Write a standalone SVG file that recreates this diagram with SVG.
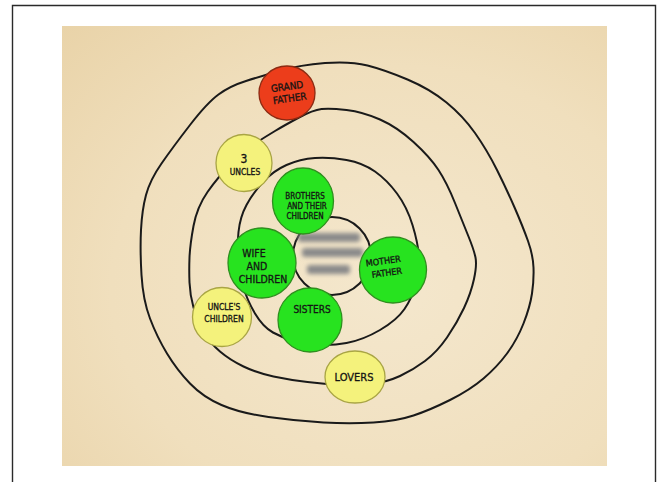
<svg xmlns="http://www.w3.org/2000/svg" width="657" height="482" viewBox="0 0 657 482">
<defs>
<radialGradient id="paper" cx="0.6" cy="0.6" r="0.85">
<stop offset="0" stop-color="#f4e7cd"/>
<stop offset="0.6" stop-color="#f0dfbd"/>
<stop offset="1" stop-color="#e9d3a8"/>
</radialGradient>
<filter id="blur" x="-20%" y="-50%" width="140%" height="200%"><feGaussianBlur stdDeviation="2.2"/></filter>
<style>
.ring{fill:none;stroke:#1a1a1a;stroke-width:2;stroke-linejoin:round}
.green{fill:#27e31f;stroke:#2f8f1f;stroke-width:1.3}
.yellow{fill:#f4f27c;stroke:#a9a544;stroke-width:1.3}
.red{fill:#ec3d1b;stroke:#8c2a12;stroke-width:1.3}
.t{font-family:"Liberation Sans Narrow","DejaVu Sans Condensed","Liberation Sans",sans-serif;fill:#141414;stroke:#141414;stroke-width:0.3;text-anchor:middle}
</style>
</defs>
<rect x="0" y="0" width="657" height="482" fill="#ffffff"/>
<path d="M12.5,482 V5.5 H655.5 V482" fill="none" stroke="#2a2a2a" stroke-width="1.4"/>
<rect x="62" y="26" width="545" height="440" fill="url(#paper)"/>

<g id="connectors">
<path class="ring" d="M325,63 Q350,61 367.5,65.5 Q385,70 407.5,79.5 Q430,89 446.5,102.5 Q463,116 475,133 Q487,150 497,170 Q507,190 515,208.5 Q523,227 528,241 Q533,255 533.5,267.5 Q534,280 532,293.5 Q530,307 523.5,323.5 Q517,340 507,353.5 Q497,367 483.5,378.5 Q470,390 450,400 Q430,410 413.5,415.5 Q397,421 373.5,422.5 Q350,424 323.5,422.5 Q297,421 268.5,417 Q240,413 221.5,405 Q203,397 190,383.5 Q177,370 167,353.5 Q157,337 150,318.5 Q143,300 141.5,275 Q140,250 141,230 Q142,210 146,195 Q150,180 161.5,163.5 Q173,147 190,125 Q207,103 218.5,94.5 Q230,86 246,81 Q262,76 281,70.5 Q300,65 325,63 Z"/>
<path class="ring" d="M321.5,109 Q330,108 346.5,110 Q363,112 380,119.5 Q397,127 413.5,142 Q430,157 438.5,170 Q447,183 455,203 Q463,223 468.5,236.5 Q474,250 475.5,257.5 Q477,265 474,279 Q471,293 464,308 Q457,323 447,337.5 Q437,352 425,361 Q413,370 400,376 Q387,382 371,384 Q355,386 340,385 Q325,384 307.5,382 Q290,380 273.5,376.5 Q257,373 243.5,366.5 Q230,360 220,351.5 Q210,343 203.5,331.5 Q197,320 193.5,307.5 Q190,295 189.5,282.5 Q189,270 189.5,257.5 Q190,245 193.5,226 Q197,207 207.5,192 Q218,177 231.5,163.5 Q245,150 255,143.5 Q265,137 275,131 Q285,125 299,117.5 Q313,110 321.5,109 Z"/>
<path class="ring" d="M315,158 Q330,157 346.5,160 Q363,163 375,171.5 Q387,180 397,193.5 Q407,207 412.5,225 Q418,243 419,256.5 Q420,270 416,284 Q412,298 404.5,309 Q397,320 380,330 Q363,340 346.5,343 Q330,346 316.5,344.5 Q303,343 293,340.5 Q283,338 273,332.5 Q263,327 255,313.5 Q247,300 243,286 Q239,272 238,259.5 Q237,247 238.5,232 Q240,217 246.5,205 Q253,193 263,182 Q273,171 286.5,165 Q300,159 315,158 Z"/>
<ellipse class="ring" cx="332" cy="256" rx="39" ry="39"/>
</g>

<g id="center">
<g filter="url(#blur)" fill="#8a8a8a">
<rect x="298" y="233" width="62" height="9" rx="3"/>
<rect x="302" y="248" width="61" height="9" rx="3"/>
<rect x="307" y="265" width="43" height="9" rx="3"/>
</g>
</g>

<g id="grandfather">
<ellipse class="red" cx="287" cy="93" rx="28" ry="27"/>
<g transform="rotate(-8 288 93)">
<text class="t" x="288" y="90" font-size="10">GRAND</text>
<text class="t" x="289" y="102" font-size="10">FATHER</text>
</g>
</g>

<g id="uncles">
<ellipse class="yellow" cx="244" cy="163" rx="28" ry="28.5"/>
<text class="t" x="244" y="163" font-size="12">3</text>
<text class="t" x="245" y="175" font-size="8.5">UNCLES</text>
</g>

<g id="brothers">
<ellipse class="green" cx="303" cy="201" rx="30.5" ry="33"/>
<text class="t" x="305" y="199" font-size="8">BROTHERS</text>
<text class="t" x="307" y="209" font-size="8">AND THEIR</text>
<text class="t" x="305" y="219" font-size="8">CHILDREN</text>
</g>

<g id="wife">
<ellipse class="green" cx="262" cy="263" rx="34" ry="35"/>
<text class="t" x="254" y="257" font-size="10.5">WIFE</text>
<text class="t" x="257" y="270" font-size="10.5">AND</text>
<text class="t" x="263" y="283" font-size="10.5">CHILDREN</text>
</g>

<g id="mother">
<ellipse class="green" cx="393" cy="270" rx="33.5" ry="33"/>
<g transform="rotate(-8 385 266)">
<text class="t" x="384" y="264" font-size="9">MOTHER</text>
<text class="t" x="386" y="276" font-size="9">FATHER</text>
</g>
</g>

<g id="sisters">
<ellipse class="green" cx="310" cy="320" rx="32" ry="32"/>
<text class="t" x="312" y="313" font-size="10">SISTERS</text>
</g>

<g id="unclechildren">
<ellipse class="yellow" cx="222" cy="317" rx="29.5" ry="29.5"/>
<text class="t" x="224" y="310" font-size="8.5">UNCLE'S</text>
<text class="t" x="224" y="322" font-size="8.5">CHILDREN</text>
</g>

<g id="lovers">
<ellipse class="yellow" cx="355" cy="377" rx="30" ry="26"/>
<text class="t" x="354" y="381" font-size="11">LOVERS</text>
</g>
</svg>
